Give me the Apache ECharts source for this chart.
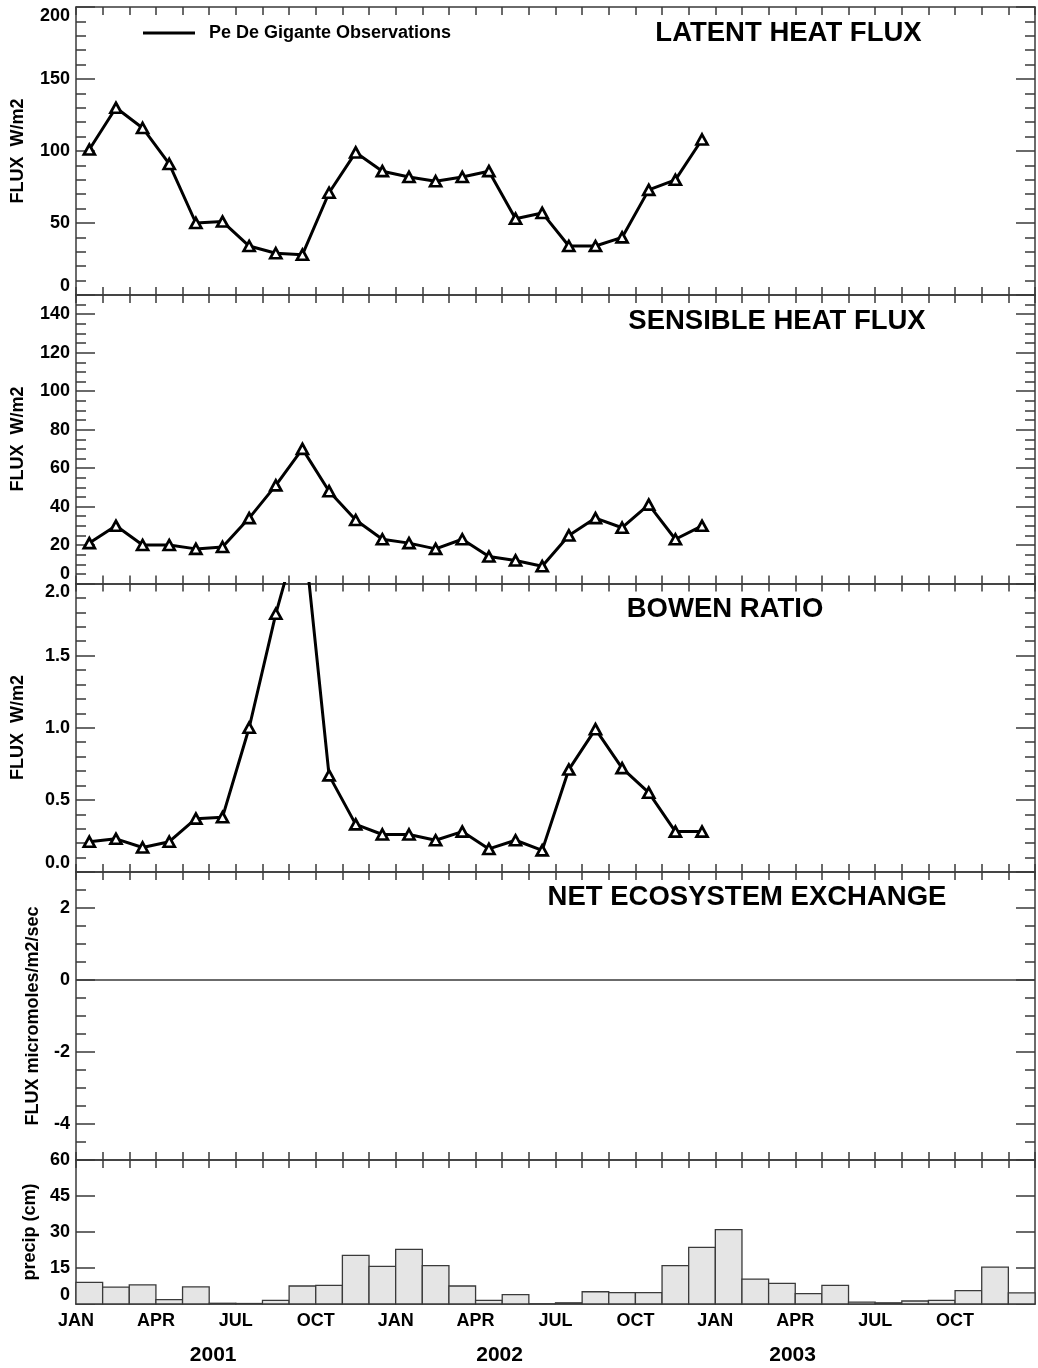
<!DOCTYPE html>
<html><head><meta charset="utf-8">
<script src="https://cdn.jsdelivr.net/npm/echarts@6/dist/echarts.min.js"></script>
<style>html,body{margin:0;padding:0;background:#fff}#c{width:1038px;height:1368px}</style>
</head><body><div id="c"></div>
<script>
// ---------------- data ----------------
const monthNames = ['JAN', 'APR', 'JUL', 'OCT'];
const years = ['2001', '2002', '2003'];
const yearLabelMonth = [5.15, 15.9, 26.9];
const latent = [101, 130, 116, 91, 50, 51, 34, 29, 28, 71, 99, 86, 82, 79, 82, 86, 53, 57, 34, 34, 40, 73, 80, 108];
const sensible = [21, 30, 20, 20, 18, 19, 34, 51, 70, 48, 33, 23, 21, 18, 23, 14, 12, 9, 25, 34, 29, 41, 23, 30];
const bowen = [0.21, 0.23, 0.17, 0.21, 0.37, 0.38, 1.0, 1.79, 2.45, 0.67, 0.33, 0.26, 0.26, 0.22, 0.28, 0.16, 0.22, 0.15, 0.71, 0.99, 0.72, 0.55, 0.28, 0.28];
const nee = [];
const precip = [9.0, 7.0, 8.0, 1.8, 7.1, 0.3, 0.2, 1.5, 7.5, 7.8, 20.3, 15.7,
                22.8, 16.0, 7.5, 1.5, 3.9, 0, 0.5, 5.1, 4.7, 4.7, 16.0, 23.6,
                31.0, 10.4, 8.6, 4.3, 7.8, 0.8, 0.5, 1.25, 1.5, 5.6, 15.4, 4.6];
const latentTicks = [0, 50, 100, 150, 200];
const sensibleTicks = [0, 20, 40, 60, 80, 100, 120, 140];
const bowenTicks = [0, 0.5, 1.0, 1.5, 2.0];
const neeTicks = [-4, -2, 0, 2];
const precipTicks = [0, 15, 30, 45, 60];
const titles = ['LATENT HEAT FLUX', 'SENSIBLE HEAT FLUX', 'BOWEN RATIO', 'NET ECOSYSTEM EXCHANGE'];
const yNames = ['FLUX  W/m2', 'FLUX  W/m2', 'FLUX  W/m2', 'FLUX micromoles/m2/sec', 'precip (cm)'];
const legendName = 'Pe De Gigante Observations';

// ---------------- layout / style ----------------
const FONT = '"Liberation Sans", Arial, Helvetica, sans-serif';
const AX = '#3a3a3a';
const NMONTH = 36;
const panels = [
  { top: 7, height: 288, min: 0, max: 200, ticks: latentTicks, minor: 10, dec: 0, vMin: 'bottom', vMax: 'top' },
  { top: 295, height: 288.5, min: 0, max: 150, ticks: sensibleTicks, minor: 5, dec: 0, vMin: 'bottom', vMax: null },
  { top: 583.5, height: 288.5, min: 0, max: 2, ticks: bowenTicks, minor: 0.1, dec: 1, vMin: 'bottom', vMax: 'top' },
  { top: 872, height: 288, min: -5, max: 3, ticks: neeTicks, minor: 0.5, dec: 0, vMin: null, vMax: null },
  { top: 1160, height: 144, min: 0, max: 60, ticks: precipTicks, minor: null, dec: 0, vMin: 'bottom', vMax: null }
];

const lineSt = { color: AX, width: 1.5 };
const labelFont = { fontSize: 18, fontWeight: 'bold', color: '#000', fontFamily: FONT };

const grid = [], xAxis = [], yAxis = [];
const majorIdx = [];
panels.forEach((p, i) => {
  grid.push({ left: 76, width: 959, top: p.top, height: p.height, containLabel: false, outerBoundsMode: 'none' });
  ['bottom', 'top'].forEach(pos => {
    xAxis.push({
      type: 'value', gridIndex: i, position: pos, min: 0, max: NMONTH, interval: 1,
      axisLine: { show: true, onZero: false, lineStyle: lineSt },
      axisTick: { show: !(i === 4 && pos === 'bottom'), inside: true, length: 8, lineStyle: lineSt },
      splitLine: { show: false },
      axisLabel: (i === 4 && pos === 'bottom') ? Object.assign({
        show: true, margin: 8,
        showMinLabel: true, showMaxLabel: true,
        formatter: v => (v % 3 === 0 && v < NMONTH) ? monthNames[(v / 3) % 4] : ''
      }, labelFont) : { show: false }
    });
  });
  ['left', 'right'].forEach(pos => {
    if (pos === 'left') majorIdx.push(yAxis.length);
    const lab = (pos === 'left') ? Object.assign({
      show: true, margin: 6, customValues: p.ticks,
      formatter: v => v.toFixed(p.dec)
    }, labelFont) : { show: false };
    if (pos === 'left') {
      if (p.vMin) lab.verticalAlignMinLabel = p.vMin;
      if (p.vMax) lab.verticalAlignMaxLabel = p.vMax;
    }
    yAxis.push({
      type: 'value', gridIndex: i, position: pos, min: p.min, max: p.max,
      axisLine: { show: true, onZero: false, lineStyle: lineSt },
      axisTick: { show: true, inside: true, length: 19, customValues: p.ticks, lineStyle: lineSt },
      splitLine: { show: false },
      axisLabel: lab
    });
    if (p.minor) {
      yAxis.push({
        type: 'value', gridIndex: i, position: pos, min: p.min, max: p.max, interval: p.minor,
        axisLine: { show: false, onZero: false },
        axisTick: { show: true, inside: true, length: 10, lineStyle: lineSt },
        splitLine: { show: false },
        axisLabel: { show: false }
      });
    }
  });
});
// year labels axis
xAxis.push({
  type: 'value', gridIndex: 4, position: 'bottom', min: 0, max: NMONTH,
  axisLine: { show: false, onZero: false }, axisTick: { show: false }, splitLine: { show: false },
  axisLabel: Object.assign({ show: true, margin: 41, customValues: yearLabelMonth,
    formatter: v => years[yearLabelMonth.indexOf(v)] }, labelFont, { fontSize: 21 })
});

const symStyle = { color: '#fff', borderColor: '#000', borderWidth: 2.7 };
function obsSeries(name, arr, gi) {
  return {
    name: name, type: 'line', xAxisIndex: gi * 2, yAxisIndex: majorIdx[gi],
    data: arr.map((v, k) => [k + 0.5, v]),
    symbol: 'triangle', symbolSize: [11, 10], showAllSymbol: true,
    lineStyle: { color: '#000', width: 3 }, itemStyle: symStyle,
    clip: true, animation: false, z: 5
  };
}

const series = [
  obsSeries(legendName, latent, 0),
  obsSeries('Sensible', sensible, 1),
  obsSeries('Bowen', bowen, 2),
  {
    name: 'NEE', type: 'line', xAxisIndex: 6, yAxisIndex: majorIdx[3],
    data: nee.map((v, k) => [k + 0.5, v]), animation: false,
    markLine: {
      silent: true, symbol: ['none', 'none'], animation: false,
      label: { show: false },
      lineStyle: { color: AX, width: 1.5, type: 'solid' },
      data: [{ yAxis: 0 }]
    }
  },
  {
    name: 'precip', type: 'custom', xAxisIndex: 8, yAxisIndex: majorIdx[4],
    data: precip.map((v, k) => [k, v]), animation: false,
    renderItem: function (params, api) {
      const m = api.value(0), v = api.value(1);
      const a = api.coord([m, v]);
      const b = api.coord([m + 1, 0]);
      return {
        type: 'rect',
        shape: { x: a[0], y: a[1], width: b[0] - a[0], height: b[1] - a[1] },
        style: { fill: '#e5e5e5', stroke: '#3a3a3a', lineWidth: 1.3 }
      };
    }
  }
];

const titlePos = [[788.5, 33], [777, 321], [725, 609], [747, 897.5]];
const namePos = [[18.5, 151], [18.5, 439], [18.5, 727.5], [33.5, 1016], [30, 1232]];
const graphic = [];
titles.forEach((t, k) => graphic.push({
  type: 'text', x: titlePos[k][0], y: titlePos[k][1],
  style: { text: t, font: 'bold 27.5px ' + FONT, fill: '#000', align: 'center', verticalAlign: 'middle' }
}));
yNames.forEach((t, k) => graphic.push({
  type: 'text', x: namePos[k][0], y: namePos[k][1], rotation: Math.PI / 2,
  style: { text: t, font: 'bold 18px ' + FONT, fill: '#000', align: 'center', verticalAlign: 'middle' }
}));

const chart = echarts.init(document.getElementById('c'), null, { renderer: 'canvas' });
chart.setOption({
  animation: false,
  backgroundColor: '#fff',
  grid, xAxis, yAxis, series, graphic,
  legend: {
    data: [legendName], left: 143, top: 24, padding: 0,
    icon: 'rect', itemWidth: 52, itemHeight: 3,
    itemStyle: { color: '#000', borderWidth: 0 },
    textStyle: Object.assign({}, labelFont, { padding: [0, 0, 0, 9] }),
    selectedMode: false
  }
});
</script>
</body></html>
